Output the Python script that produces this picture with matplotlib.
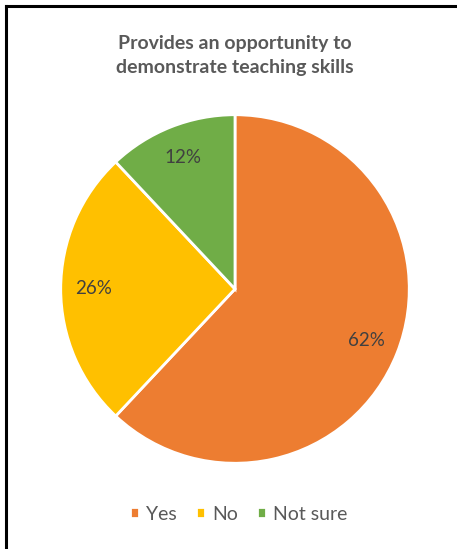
import matplotlib.pyplot as plt
from matplotlib.lines import Line2D

categories = ["Yes", "No", "Not sure"]
shares = [62, 26, 12]
colors = ["#ED7D31", "#FFC000", "#70AD47"]
title = "Provides an opportunity to\ndemonstrate teaching skills"

plt.rcParams["font.family"] = ["Lato", "DejaVu Sans"]

fig = plt.figure(figsize=(4.57, 5.49), dpi=100)

# border lines along top and left like the screenshot crop
fig.add_artist(Line2D([6 / 457, 1], [1 - 6 / 549, 1 - 6 / 549], color="black", lw=2.2))
fig.add_artist(Line2D([6 / 457, 6 / 457], [0, 1 - 6 / 549], color="black", lw=2.2))

ax = fig.add_axes([(235 - 176) / 457, (549 - 289 - 176) / 549, 352 / 457, 352 / 549])
wedges, texts, autotexts = ax.pie(
    shares,
    colors=colors,
    startangle=90,
    counterclock=False,
    autopct="%d%%",
    pctdistance=0.81,
    wedgeprops=dict(edgecolor="white", linewidth=2),
    textprops=dict(color="#404040", fontsize=13.5),
)
ax.set_xlim(-1.01, 1.01)
ax.set_ylim(-1.01, 1.01)
ax.set_aspect("equal")

fig.text(0.514, 1 - 55 / 549, title, ha="center", va="center",
         fontsize=14, fontweight="bold", color="#595959", linespacing=1.5)

fig.legend(wedges, categories, loc="center", bbox_to_anchor=(239 / 457, 1 - 514 / 549),
           ncol=3, frameon=False, handlelength=0.46, handleheight=0.46,
           handletextpad=0.35, columnspacing=1.0,
           prop=dict(size=14), labelcolor="#595959")

fig.savefig("out.png", dpi=100)
